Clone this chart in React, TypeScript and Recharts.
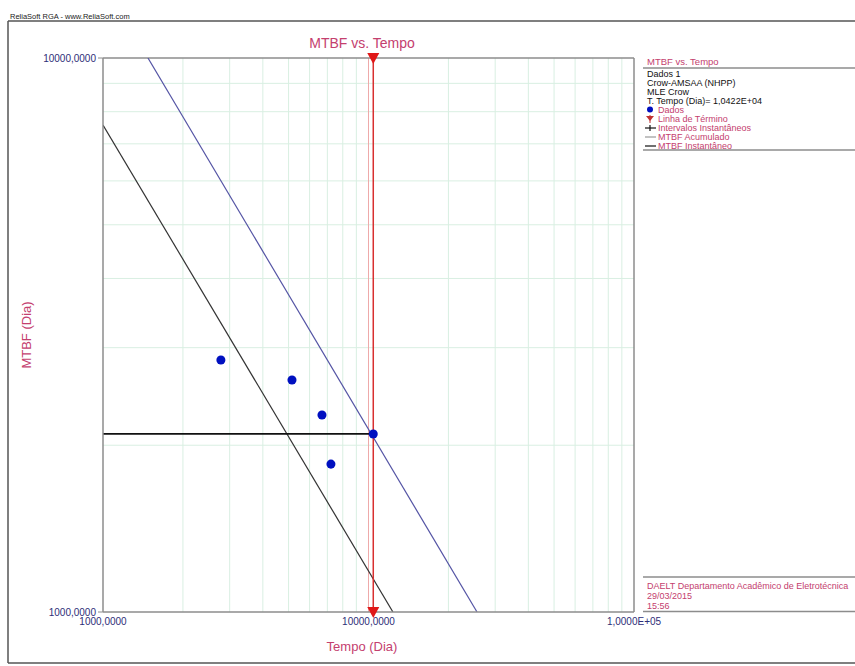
import React from "react";
import {
  ComposedChart, Line, Scatter, XAxis, YAxis, ReferenceLine, ReferenceDot,
} from "recharts";

// failure data points (tempo, MTBF acumulado)
const dados = [
  { t: 2780, m: 2850 },
  { t: 5150, m: 2623 },
  { t: 6680, m: 2268 },
  { t: 7220, m: 1849 },
  { t: 10422, m: 2096 },
];

// fitted lines
const mtbfAcumulado = [
  { t: 1477, m: 10000 },
  { t: 25630, m: 1000 },
];
const mtbfInstantaneo = [
  { t: 1000, m: 7570 },
  { t: 12360, m: 1000 },
];
const intervalo = [
  { t: 1000, m: 2096 },
  { t: 10422, m: 2096 },
];

const tempoTermino = 10422;

const xTicks = [1000, 10000, 100000];
const yTicks = [1000, 10000];
const xGrid = [2000, 3000, 4000, 5000, 6000, 7000, 8000, 9000, 20000, 30000, 40000, 50000, 60000, 70000, 80000, 90000];
const yGrid = [2000, 3000, 4000, 5000, 6000, 7000, 8000, 9000];

const legendInfo = ["Dados 1", "Crow-AMSAA (NHPP)", "MLE Crow", "T. Tempo (Dia)= 1,0422E+04"];
const legendItems = ["Dados", "Linha de Término", "Intervalos Instantâneos", "MTBF Acumulado", "MTBF Instantâneo"];
const footer = ["DAELT Departamento Acadêmico de Eletrotécnica", "29/03/2015", "15:56"];

const PINK = "#c4406e";
const NAVY = "#2e2e78";
const AXIS = "#8c8c8c";
const GRID = "#d9efe2";
const FONT = "'Liberation Sans', Arial, sans-serif";

const fmtTick = (v: number) =>
  v >= 100000 ? "1,0000E+05" : v.toFixed(4).replace(".", ",");

const Triangle = (props: any) => {
  const { cx, cy } = props;
  return <path d={`M${cx - 6},${cy - 5} L${cx + 6},${cy - 5} L${cx},${cy + 6} Z`} fill="#e01818" />;
};

function Overlay() {
  return (
    <svg width={855} height={666} style={{ position: "absolute", left: 0, top: 0, pointerEvents: "none" }} fontFamily={FONT}>
      <text x={10} y={19} fontSize={7.5} fill="#222">ReliaSoft RGA - www.ReliaSoft.com</text>
      <line x1={8} y1={21} x2={855} y2={21} stroke="#555" strokeWidth={1.5} />
      <line x1={8} y1={21} x2={8} y2={663} stroke="#555" strokeWidth={1.5} />
      <line x1={8} y1={663} x2={855} y2={663} stroke="#555" strokeWidth={1.5} />

      <text x={362} y={48} fontSize={14} fill={PINK} textAnchor="middle">MTBF vs. Tempo</text>
      <text x={362} y={651} fontSize={13} fill={PINK} textAnchor="middle">Tempo (Dia)</text>
      <text x={31} y={335} fontSize={13} fill={PINK} textAnchor="middle" transform="rotate(-90 31 335)">MTBF (Dia)</text>

      {/* legend */}
      <text x={647} y={65} fontSize={9.5} fill={PINK}>MTBF vs. Tempo</text>
      <line x1={643} y1={68} x2={855} y2={68} stroke={AXIS} strokeWidth={1.5} />
      {legendInfo.map((s, i) => (
        <text key={s} x={647} y={76.5 + i * 9.1} fontSize={9} fill="#111">{s}</text>
      ))}
      {legendItems.map((s, i) => (
        <text key={s} x={658} y={113 + i * 9.1} fontSize={9} fill={PINK}>{s}</text>
      ))}
      <circle cx={650} cy={109.5} r={3} fill="#0010c0" />
      <line x1={650} y1={115} x2={650} y2={123} stroke="#c03030" strokeWidth={1} />
      <path d="M646,116 L654,116 L650,121 Z" fill="#c03030" />
      <line x1={645} y1={128} x2={656} y2={128} stroke="#111" strokeWidth={1.2} />
      <line x1={650} y1={125} x2={650} y2={131} stroke="#111" strokeWidth={1.2} />
      <line x1={645} y1={137} x2={656} y2={137} stroke="#999" strokeWidth={1.2} />
      <line x1={645} y1={146} x2={656} y2={146} stroke="#111" strokeWidth={1.2} />
      <line x1={643} y1={150} x2={855} y2={150} stroke={AXIS} strokeWidth={1.5} />

      {/* footer box */}
      <line x1={643} y1={577} x2={855} y2={577} stroke={AXIS} strokeWidth={1.5} />
      {footer.map((s, i) => (
        <text key={s} x={647} y={588.5 + i * 10} fontSize={9} fill={PINK}>{s}</text>
      ))}
      <line x1={643} y1={611.5} x2={855} y2={611.5} stroke={AXIS} strokeWidth={1.5} />
    </svg>
  );
}

export default function App() {
  return (
    <div style={{ position: "absolute", left: 0, top: 0, width: 855, height: 666, background: "#fff", fontFamily: FONT }}>
      <ComposedChart width={855} height={666} margin={{ top: 58, right: 221, bottom: 0, left: 0 }}>
        <XAxis
          type="number"
          dataKey="t"
          scale="log"
          domain={[1000, 100000]}
          allowDataOverflow
          ticks={xTicks}
          tickFormatter={fmtTick}
          tickLine={false}
          tickSize={4}
          height={54}
          axisLine={{ stroke: AXIS, strokeWidth: 1.5 }}
          tick={{ fill: NAVY, fontSize: 10, fontFamily: FONT }}
        />
        <YAxis
          type="number"
          dataKey="m"
          scale="log"
          domain={[1000, 10000]}
          allowDataOverflow
          ticks={yTicks}
          tickFormatter={fmtTick}
          tickSize={5}
          width={103}
          axisLine={{ stroke: AXIS, strokeWidth: 1.5 }}
          tickLine={{ stroke: AXIS }}
          tick={{ fill: NAVY, fontSize: 10, fontFamily: FONT }}
        />
        {xGrid.map((v) => (
          <ReferenceLine key={"x" + v} x={v} stroke={GRID} strokeWidth={1} />
        ))}
        {yGrid.map((v) => (
          <ReferenceLine key={"y" + v} y={v} stroke={GRID} strokeWidth={1} />
        ))}
        <ReferenceLine x={10000} stroke="#eeaaaa" strokeWidth={1} />
        <ReferenceLine y={10000} stroke={AXIS} strokeWidth={1.5} />
        <ReferenceLine x={100000} stroke={AXIS} strokeWidth={1.5} />

        <Line data={mtbfAcumulado} dataKey="m" stroke="#5454a4" strokeWidth={1.2} dot={false} isAnimationActive={false} />
        <Line data={mtbfInstantaneo} dataKey="m" stroke="#333" strokeWidth={1.2} dot={false} isAnimationActive={false} />
        <Line data={intervalo} dataKey="m" stroke="#111" strokeWidth={1.8} dot={false} isAnimationActive={false} />

        <ReferenceLine x={tempoTermino} stroke="#d83030" strokeWidth={1.5} />
        <ReferenceDot x={tempoTermino} y={10000} r={6} shape={Triangle} ifOverflow="visible" />
        <ReferenceDot x={tempoTermino} y={1000} r={6} shape={Triangle} ifOverflow="visible" />

        <Scatter data={dados} fill="#0010c0" isAnimationActive={false} />
      </ComposedChart>
      <Overlay />
    </div>
  );
}
